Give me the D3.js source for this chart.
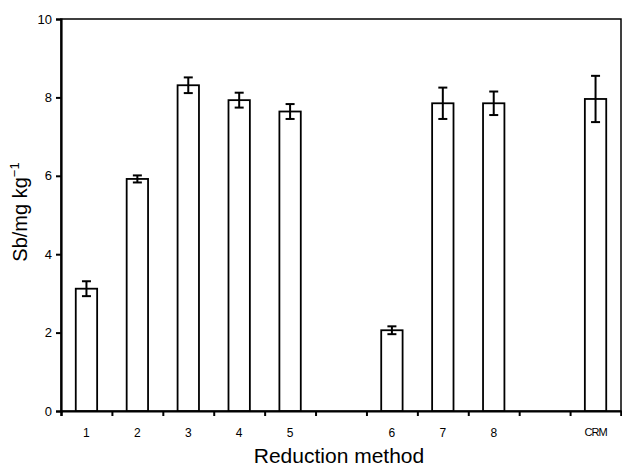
<!DOCTYPE html>
<html>
<head>
<meta charset="utf-8">
<script src="https://cdn.jsdelivr.net/npm/d3@7"></script>
<style>
  body { margin: 0; background: #fff; }
  svg { display: block; font-family: "Liberation Sans", Arial, sans-serif; }
</style>
</head>
<body>
<svg id="chart" width="622" height="468"></svg>
<script>
// slots along the x axis, gaps have no bar
const slots = ["1", "2", "3", "4", "5", "gap1", "6", "7", "8", "gap2", "CRM"];
const methods = ["1", "2", "3", "4", "5", "6", "7", "8", "CRM"];
const sbValues = [3.12, 5.92, 8.31, 7.93, 7.64, 2.06, 7.85, 7.85, 7.96];
const sbErrors = [0.19, 0.09, 0.2, 0.19, 0.19, 0.1, 0.4, 0.3, 0.59];
const yTicks = [0, 2, 4, 6, 8, 10];

const svg = d3.select("#chart");
const margin = { top: 19, right: 1, bottom: 57, left: 61 };
const width = 622 - margin.left - margin.right;
const height = 468 - margin.top - margin.bottom;

const g = svg.append("g").attr("transform", `translate(${margin.left},${margin.top})`);

const x = d3.scaleBand().domain(slots).range([0, width]).paddingInner(0.58).paddingOuter(0.29);
const xEdges = d3.scaleLinear().domain([0, slots.length]).range([0, width]);
const y = d3.scaleLinear().domain([0, 10]).range([height, 0]);

// frame
g.append("rect")
  .attr("x", 0).attr("y", 0)
  .attr("width", width).attr("height", height)
  .attr("fill", "none").attr("stroke", "#000").attr("stroke-width", 1.5);

// bars
const data = methods.map((m, i) => ({ m, v: sbValues[i], e: sbErrors[i] }));

g.selectAll(".bar")
  .data(data)
  .enter()
  .append("rect")
  .attr("class", "bar")
  .attr("x", (d) => x(d.m))
  .attr("y", (d) => y(d.v))
  .attr("width", x.bandwidth())
  .attr("height", (d) => height - y(d.v))
  .attr("fill", "#fff")
  .attr("stroke", "#000")
  .attr("stroke-width", 1.8);

// error bars
const cap = 4.5;
const err = g.selectAll(".err").data(data).enter().append("g").attr("class", "err")
  .attr("stroke", "#000").attr("stroke-width", 2);
err.append("line")
  .attr("x1", (d) => x(d.m) + x.bandwidth() / 2)
  .attr("x2", (d) => x(d.m) + x.bandwidth() / 2)
  .attr("y1", (d) => y(d.v + d.e))
  .attr("y2", (d) => y(d.v - d.e));
err.append("line")
  .attr("x1", (d) => x(d.m) + x.bandwidth() / 2 - cap)
  .attr("x2", (d) => x(d.m) + x.bandwidth() / 2 + cap)
  .attr("y1", (d) => y(d.v + d.e))
  .attr("y2", (d) => y(d.v + d.e));
err.append("line")
  .attr("x1", (d) => x(d.m) + x.bandwidth() / 2 - cap)
  .attr("x2", (d) => x(d.m) + x.bandwidth() / 2 + cap)
  .attr("y1", (d) => y(d.v - d.e))
  .attr("y2", (d) => y(d.v - d.e));

// y axis
const yAxis = g.append("g")
  .call(d3.axisLeft(y).tickValues(yTicks).tickSize(5).tickPadding(4));
yAxis.select(".domain").attr("stroke-width", 2.2);
yAxis.selectAll(".tick line").attr("stroke-width", 2);
yAxis.selectAll("text").attr("font-size", 13).attr("fill", "#000");

// x axis: ticks at slot edges, labels in the middle
const xTickAxis = g.append("g")
  .attr("transform", `translate(0,${height})`)
  .call(d3.axisBottom(xEdges).tickValues(d3.range(0, slots.length + 1)).tickSize(5).tickFormat(""));
xTickAxis.select(".domain").attr("stroke-width", 2.2);
xTickAxis.selectAll(".tick line").attr("stroke-width", 2);

const xLabelAxis = g.append("g")
  .attr("transform", `translate(0,${height})`)
  .call(d3.axisBottom(x).tickSize(0).tickPadding(17)
    .tickFormat((d) => (d.startsWith("gap") ? "" : d)));
xLabelAxis.select(".domain").remove();
xLabelAxis.selectAll("text").attr("font-size", 12).attr("fill", "#000");
xLabelAxis.selectAll("text").filter((d) => d === "CRM")
  .attr("font-size", 11).attr("letter-spacing", -1);

// axis titles
svg.append("text")
  .attr("x", 339)
  .attr("y", 463)
  .attr("text-anchor", "middle")
  .attr("font-size", 21)
  .text("Reduction method");

const yTitle = svg.append("text")
  .attr("transform", "translate(27,212) rotate(-90)")
  .attr("text-anchor", "middle")
  .attr("font-size", 20);
yTitle.append("tspan").text("Sb/mg kg");
yTitle.append("tspan").attr("font-size", 13).attr("dy", -8).text("−1");
</script>
</body>
</html>
